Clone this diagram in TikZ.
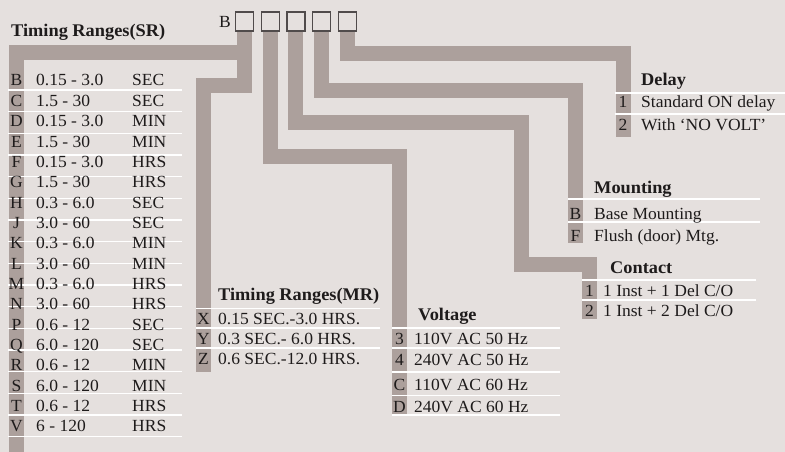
\documentclass[tikz,border=0pt]{standalone}
\usepackage{fontspec}
\setmainfont{Liberation Serif}[FakeStretch=1.03]
\usepackage{tikz}
\usetikzlibrary{positioning}
\definecolor{PanelBg}{RGB}{229,224,222}
\definecolor{BarGrey}{RGB}{172,160,156}
\definecolor{InkGrey}{RGB}{30,27,27}
\definecolor{BoxEdge}{RGB}{80,75,75}

\begin{document}
\begin{tikzpicture}[x=1pt,y=-1pt,
  bar/.style={line width=15pt,BarGrey},
  rowline/.style={white,line width=1.2pt},
  txt/.style={anchor=base west,inner sep=0pt,text=InkGrey,font=\fontsize{17}{20}\selectfont},
  key/.style={txt,anchor=base},
  ttl/.style={txt,font=\fontsize{17.8}{21}\selectfont\bfseries},
  digitbox/.style={draw=BoxEdge,line width=1.2pt,fill=PanelBg,minimum width=18pt,
    minimum height=19pt,inner sep=0pt}]
\fill[PanelBg] (0,0) rectangle (785,452);
\useasboundingbox (0,0) rectangle (785,452);

\node[digitbox] (d1) at (244.5,21.5) {};
\node[digitbox,right=6.5pt of d1] (d2) {};
\node[digitbox,right=6.5pt of d2] (d3) {};
\node[digitbox,right=6.5pt of d3] (d4) {};
\node[digitbox,right=6.5pt of d4] (d5) {};
\node[txt,anchor=base east] (pre) at (231,28) {B};

\coordinate (srend) at (16.5,452);
\coordinate (mrend) at (203.5,372);
\coordinate (vend) at (399.5,415);
\coordinate (cbend) at (521.5,264.5);
\coordinate (cend) at (589.5,319);
\coordinate (mend) at (575.5,243);
\coordinate (dend) at (623,137);
\draw[bar] (d1.south) ++(0,20.5) -| (srend);
\draw[bar] (d1.south) -- ++(0,53.5) -| (mrend);
\draw[bar] (d2.south) -- ++(0,124.5) -| (vend);
\draw[bar] (d3.south) -- ++(0,90.5) -| (cbend) -| (cend);
\draw[bar] (d4.south) -- ++(0,58.5) -| (mend);
\draw[bar] (d5.south) -- ++(0,21.5) -| (dend);

% timing ranges (SR)
\node[ttl] (srtitle) at (11,37) {Timing Ranges(SR)};
\foreach \i in {0,...,16}
  \draw[rowline] (8,{90+21.67*\i}) -- (182,{90+21.67*\i});
\foreach \k/\r/\u [count=\i from 0] in {B/0.15 - 3.0/SEC,C/1.5 - 30/SEC,D/0.15 - 3.0/MIN,
    E/1.5 - 30/MIN,F/0.15 - 3.0/HRS,G/1.5 - 30/HRS,H/0.3 - 6.0/SEC,J/3.0 - 60/SEC,
    K/0.3 - 6.0/MIN,L/3.0 - 60/MIN,M/0.3 - 6.0/HRS,N/3.0 - 60/HRS,P/0.6 - 12/SEC,
    Q/6.0 - 120/SEC,R/0.6 - 12/MIN,S/6.0 - 120/MIN,T/0.6 - 12/HRS,V/6 - 120/HRS}{
  \node[key] (srk\i) at (16.5,{86+20.35*\i}) {\k};
  \node[txt] (srr\i) at (36,{86+20.35*\i}) {\r};
  \node[txt] (sru\i) at (132,{86+20.35*\i}) {\u};
}

% timing ranges (MR)
\node[ttl] (mrtitle) at (218,300) {Timing Ranges(MR)};
\foreach \y in {308.5,328,348}
  \draw[rowline] (196,\y) -- (380,\y);
\foreach \k/\t [count=\i from 0] in {X/0.15 SEC.-3.0 HRS.,Y/0.3 SEC.- 6.0 HRS.,
    Z/0.6 SEC.-12.0 HRS.}{
  \node[key] (mrk\i) at (203.5,{324+20*\i}) {\k};
  \node[txt] (mrt\i) at (218,{324+20*\i}) {\t};
}

% voltage
\node[ttl] (vtitle) at (418,320) {Voltage};
\foreach \y in {328,348,372,395.5,415}
  \draw[rowline] (392,\y) -- (560,\y);
\foreach \k/\t/\y [count=\i from 0] in {3/110V AC 50 Hz/344,4/240V AC 50 Hz/365,
    C/110V AC 60 Hz/390,D/240V AC 60 Hz/412}{
  \node[key] (vk\i) at (399.5,\y) {\k};
  \node[txt] (vt\i) at (414,\y) {\t};
}

% contact
\node[ttl] (ctitle) at (610,273) {Contact};
\foreach \y in {280,300}
  \draw[rowline] (582,\y) -- (756,\y);
\foreach \k/\t [count=\i from 0] in {1/{1 Inst + 1 Del C/O},2/{1 Inst + 2 Del C/O}}{
  \node[key] (ck\i) at (589.5,{296+20*\i}) {\k};
  \node[txt] (ct\i) at (603,{296+20*\i}) {\t};
}

% mounting
\node[ttl] (mtitle) at (594,193) {Mounting};
\foreach \y in {199,222}
  \draw[rowline] (568,\y) -- (760,\y);
\node[key] (mk0) at (575.5,219) {B};
\node[txt] (mt0) at (594,219) {Base Mounting};
\node[key] (mk1) at (575.5,241) {F};
\node[txt] (mt1) at (594,241) {Flush (door) Mtg.};

% delay
\node[ttl] (dtitle) at (641,86) {Delay};
\foreach \y in {93,114}
  \draw[rowline] (615,\y) -- (785,\y);
\node[key] (dk0) at (623,107) {1};
\node[txt] (dt0) at (641,107) {Standard ON delay};
\node[key] (dk1) at (623,130) {2};
\node[txt] (dt1) at (641,130) {With `NO VOLT'};
\end{tikzpicture}
\end{document}
